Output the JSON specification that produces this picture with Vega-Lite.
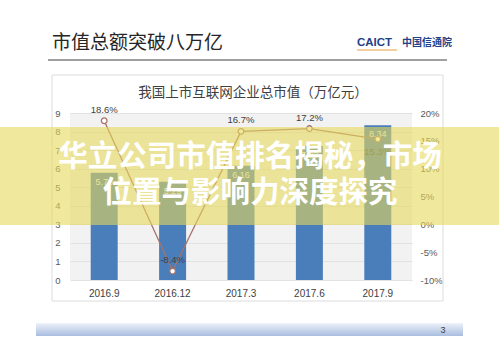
{
  "$schema": "https://vega.github.io/schema/vega-lite/v6.json",
  "width": 342,
  "height": 167,
  "autosize": {"type": "none"},
  "padding": {"left": 70, "top": 113, "right": 87, "bottom": 73},
  "background": "#ffffff",
  "config": {
    "locale": {"number": {"decimal": ".", "thousands": ",", "grouping": [3], "currency": ["$", ""], "minus": "-"}},
    "view": {"stroke": null, "fill": "#f2f2f2"},
    "font": "Noto Sans CJK SC",
    "axis": {"labelFont": "Liberation Sans", "labelColor": "#595959", "labelFontSize": 9.5, "titleFontSize": 0}
  },
  "data": {
    "values": [
      {"q": "2016.9", "v": 5.78, "g": 0.186},
      {"q": "2016.12", "v": 5.29, "g": -0.084},
      {"q": "2017.3", "v": 6.16, "g": 0.167},
      {"q": "2017.6", "v": 7.22, "g": 0.172},
      {"q": "2017.9", "v": 8.34, "g": 0.153}
    ]
  },
  "encoding": {
    "x": {
      "field": "q", "type": "nominal", "sort": null,
      "scale": {"paddingInner": 0, "paddingOuter": 0},
      "axis": {"title": null, "labelAngle": 0, "domain": false, "ticks": false, "labelPadding": 8, "labelColor": "#404040", "labelFontSize": 10}
    }
  },
  "layer": [
    {
      "data": {"values": [{}]},
      "mark": {"type": "rect", "fill": null, "stroke": "#dcdcdc", "strokeWidth": 1},
      "encoding": {"x": {"value": -18}, "x2": {"value": 373}, "y": {"value": -38}, "y2": {"value": 188}}
    },
    {
      "mark": {"type": "bar", "size": 27, "color": "#4a7ebb"},
      "encoding": {
        "y": {
          "field": "v", "type": "quantitative",
          "scale": {"domain": [0, 9], "nice": false},
          "axis": {"title": null, "orient": "left", "values": [0,1,2,3,4,5,6,7,8,9], "domain": false, "ticks": false, "labelPadding": 10, "grid": true, "gridColor": "#e2e2e2"}
        }
      }
    },
    {
      "mark": {"type": "text", "dy": 9, "color": "#eeeeee", "fontSize": 9, "font": "Liberation Sans"},
      "encoding": {
        "y": {"field": "v", "type": "quantitative", "scale": {"domain": [0, 9], "nice": false}, "axis": null},
        "text": {"field": "v", "type": "quantitative", "format": ".2f"}
      }
    },
    {
      "mark": {"type": "line", "color": "#a5736c", "strokeWidth": 1.3},
      "encoding": {
        "y": {
          "field": "g", "type": "quantitative",
          "scale": {"domain": [-0.1, 0.2], "nice": false},
          "axis": {"title": null, "orient": "right", "format": ".0%", "values": [-0.1, -0.05, 0, 0.05, 0.1, 0.15, 0.2], "domain": false, "ticks": false, "labelPadding": 8, "grid": false}
        }
      }
    },
    {
      "mark": {"type": "point", "filled": true, "fill": "#ffffff", "stroke": "#a5736c", "strokeWidth": 1.3, "size": 32, "opacity": 1},
      "encoding": {
        "y": {"field": "g", "type": "quantitative", "scale": {"domain": [-0.1, 0.2], "nice": false}, "axis": null}
      }
    },
    {
      "transform": [{"filter": "datum.q !== '2017.9'"}],
      "mark": {"type": "text", "dy": -11, "color": "#404040", "fontSize": 9.5, "font": "Liberation Sans"},
      "encoding": {
        "y": {"field": "g", "type": "quantitative", "scale": {"domain": [-0.1, 0.2], "nice": false}, "axis": null},
        "text": {"field": "g", "type": "quantitative", "format": ".1%"}
      }
    },
    {
      "transform": [{"filter": "datum.q === '2017.9'"}],
      "mark": {"type": "text", "dy": 13, "color": "#404040", "fontSize": 9.5, "font": "Liberation Sans"},
      "encoding": {
        "y": {"field": "g", "type": "quantitative", "scale": {"domain": [-0.1, 0.2], "nice": false}, "axis": null},
        "text": {"field": "g", "type": "quantitative", "format": ".1%"}
      }
    },
    {
      "data": {"values": [{}]},
      "mark": {"type": "text", "text": "我国上市互联网企业总市值（万亿元）", "fontSize": 13.5, "color": "#404040", "align": "center", "baseline": "middle"},
      "encoding": {"x": {"value": 183}, "y": {"value": -20}}
    },
    {
      "data": {"values": [{}]},
      "mark": {"type": "text", "text": "市值总额突破八万亿", "fontSize": 19, "color": "#262626", "align": "left", "baseline": "middle"},
      "encoding": {"x": {"value": -18}, "y": {"value": -70}}
    },
    {
      "data": {"values": [{}]},
      "mark": {"type": "text", "text": "CAICT", "fontSize": 11.5, "fontWeight": "bold", "font": "Liberation Sans", "color": "#1f3f86", "align": "left", "baseline": "middle"},
      "encoding": {"x": {"value": 287}, "y": {"value": -70}}
    },
    {
      "data": {"values": [{}]},
      "mark": {"type": "rule", "stroke": "#e8a040", "strokeWidth": 1.2},
      "encoding": {"x": {"value": 287}, "x2": {"value": 327}, "y": {"value": -63}}
    },
    {
      "data": {"values": [{}]},
      "mark": {"type": "text", "text": "中国信通院", "fontSize": 10, "fontWeight": "bold", "color": "#1f3f86", "align": "left", "baseline": "middle"},
      "encoding": {"x": {"value": 332}, "y": {"value": -70}}
    },
    {
      "data": {"values": [{}]},
      "mark": {"type": "rule", "stroke": "#808080", "strokeWidth": 1.5},
      "encoding": {"x": {"value": -22}, "x2": {"value": 377}, "y": {"value": -53}}
    },
    {
      "data": {"values": [{}]},
      "mark": {"type": "rect", "fill": "#e6d95a", "opacity": 0.6},
      "encoding": {"x": {"value": -70}, "x2": {"value": 429}, "y": {"value": 14}, "y2": {"value": 112}}
    },
    {
      "data": {"values": [{}]},
      "mark": {"type": "text", "text": "华立公司市值排名揭秘，市场", "fontSize": 29.5, "fontWeight": "bold", "color": "#ffffff", "align": "center", "baseline": "middle"},
      "encoding": {"x": {"value": 180}, "y": {"value": 44}}
    },
    {
      "data": {"values": [{}]},
      "mark": {"type": "text", "text": "位置与影响力深度探究", "fontSize": 29.5, "fontWeight": "bold", "color": "#ffffff", "align": "center", "baseline": "middle"},
      "encoding": {"x": {"value": 180}, "y": {"value": 80}}
    },
    {
      "data": {"values": [{}]},
      "mark": {"type": "rect", "fill": {"gradient": "linear", "x1": 0, "y1": 0, "x2": 0, "y2": 1, "stops": [{"offset": 0, "color": "#eef2fa"}, {"offset": 1, "color": "#a8bddf"}]}},
      "encoding": {"x": {"value": -34}, "x2": {"value": 393}, "y": {"value": 210}, "y2": {"value": 223}}
    },
    {
      "data": {"values": [{}]},
      "mark": {"type": "text", "text": "3", "fontSize": 9, "font": "Liberation Sans", "color": "#404040", "align": "center", "baseline": "middle"},
      "encoding": {"x": {"value": 373}, "y": {"value": 217}}
    }
  ],
  "resolve": {"scale": {"y": "independent"}}
}
